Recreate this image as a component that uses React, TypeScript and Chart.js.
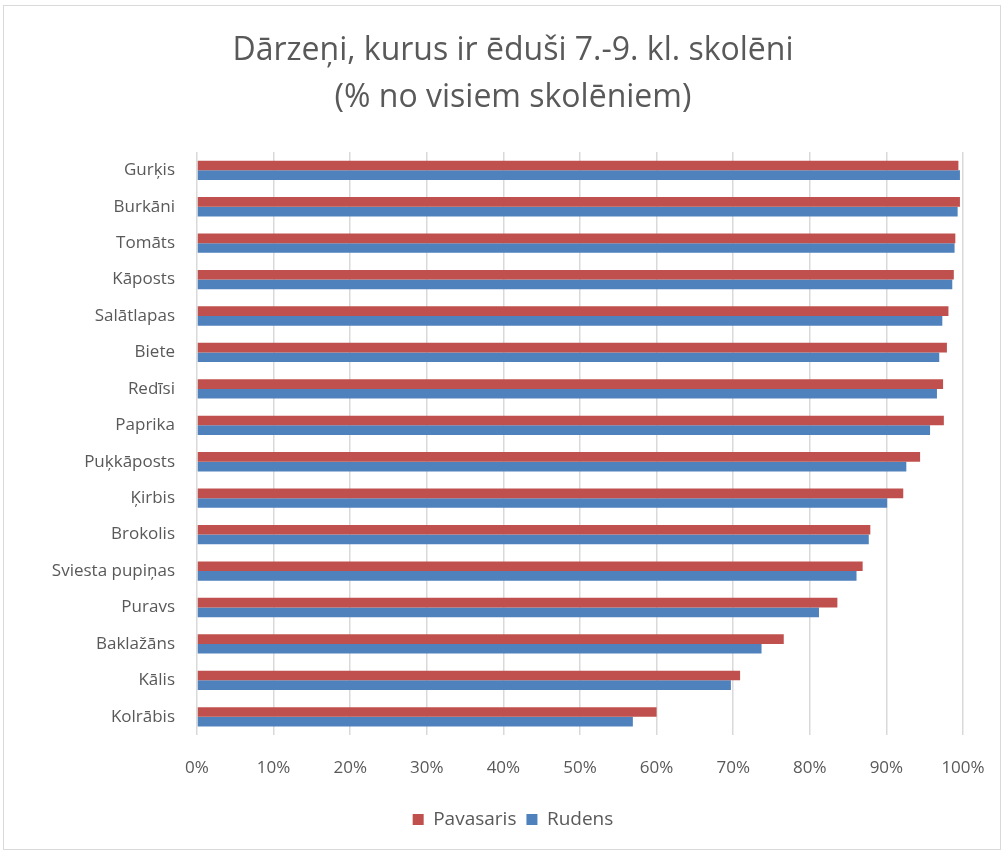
import React, { useEffect, useRef } from "react";
import { Chart, registerables } from "chart.js";

Chart.register(...registerables);

const categories = [
  "Gurķis", "Burkāni", "Tomāts", "Kāposts", "Salātlapas", "Biete", "Redīsi", "Paprika",
  "Puķkāposts", "Ķirbis", "Brokolis", "Sviesta pupiņas", "Puravs", "Baklažāns", "Kālis", "Kolrābis",
];
const pavasaris = [99.4, 99.6, 99.0, 98.8, 98.1, 97.9, 97.4, 97.5, 94.4, 92.2, 87.9, 86.9, 83.6, 76.6, 70.9, 60.0];
const rudens = [99.6, 99.3, 98.9, 98.6, 97.3, 96.9, 96.6, 95.7, 92.6, 90.1, 87.7, 86.1, 81.2, 73.7, 69.7, 56.9];
const titleLines = ["Dārzeņi, kurus ir ēduši 7.-9. kl. skolēni", "(% no visiem skolēniem)"];
const seriesNames = ["Pavasaris", "Rudens"];

const TEXT = "#595959";
const FONT = "'Open Sans', 'Noto Sans', sans-serif";

export default function App() {
  const ref = useRef<HTMLCanvasElement | null>(null);
  useEffect(() => {
    if (!ref.current) return;
    const chart = new Chart(ref.current, {
      type: "bar",
      data: {
        labels: categories,
        datasets: [
          { label: seriesNames[0], data: pavasaris, backgroundColor: "#c0504d", borderWidth: 0 },
          { label: seriesNames[1], data: rudens, backgroundColor: "#4f81bd", borderWidth: 0 },
        ],
      },
      options: {
        indexAxis: "y",
        animation: false,
        responsive: false,
        maintainAspectRatio: false,
        datasets: { bar: { categoryPercentage: 0.53, barPercentage: 1 } },
        layout: { padding: { left: 22, right: 0, top: 0, bottom: 10 } },
        plugins: {
          title: {
            display: true,
            text: titleLines,
            color: TEXT,
            font: { family: FONT, size: 32, weight: "normal", lineHeight: 1.47 },
            padding: { top: 21, bottom: 31 },
          },
          legend: {
            position: "bottom",
            labels: {
              color: TEXT,
              font: { family: FONT, size: 19 },
              boxWidth: 11,
              boxHeight: 11,
              padding: 10,
            },
          },
          tooltip: { enabled: false },
        },
        scales: {
          x: {
            min: 0,
            max: 100,
            ticks: {
              stepSize: 10,
              color: TEXT,
              font: { family: FONT, size: 17 },
              padding: 3,
              callback: (v: any) => v + "%",
            },
            grid: { color: "#d9d9d9", lineWidth: 1.5, drawTicks: true, tickLength: 20, tickColor: "rgba(0,0,0,0)" },
            border: { display: false },
            afterFit: (s: any) => { s.height = 65; },
          },
          y: {
            ticks: { color: TEXT, font: { family: FONT, size: 17 }, padding: 22 },
            grid: { display: false, drawTicks: false },
            border: { display: false },
            afterFit: (s: any) => { s.width = 171; },
          },
          yRight: {
            type: "linear",
            position: "right",
            display: true,
            ticks: { display: false },
            grid: { display: false, drawTicks: false },
            border: { display: false },
            afterFit: (s: any) => { s.width = 37; },
          },
        },
      },
    });
    return () => chart.destroy();
  }, []);
  return (
    <div
      style={{
        position: "absolute",
        left: 3,
        top: 5,
        width: 996,
        height: 843,
        border: "1px solid #d9d9d9",
        background: "#fff",
      }}
    >
      <canvas ref={ref} width={996} height={843} style={{ display: "block" }} />
    </div>
  );
}
